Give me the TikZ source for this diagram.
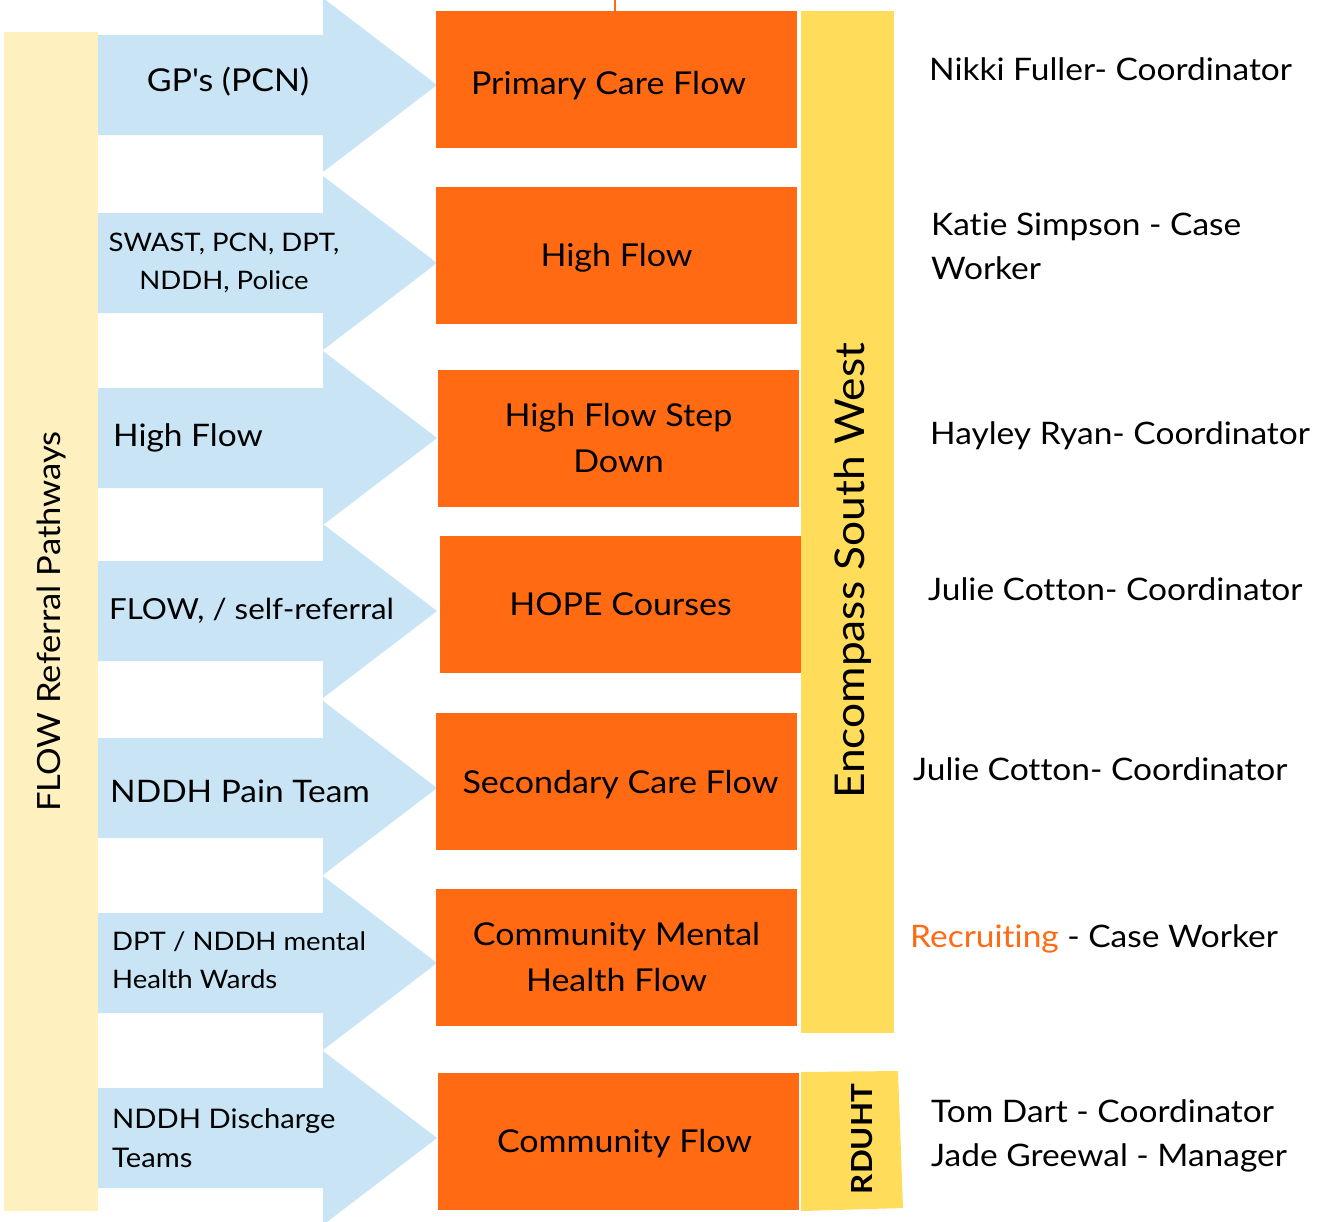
\documentclass[tikz,border=0pt]{standalone}
\usepackage{fontspec}
\setmainfont{Lato}[FakeStretch=1.08, Ligatures=NoCommon]
\usetikzlibrary{positioning}
\definecolor{flowOrange}{HTML}{FF6A13}
\definecolor{bandYellow}{HTML}{FFDC5A}
\definecolor{paleYellow}{HTML}{FEF0BF}
\definecolor{arrowBlue}{HTML}{C8E4F5}
\newcommand\lowered[2]{\raisebox{-#1}[\height][\depth]{#2}}
\tikzset{
flowbox/.style={
  rectangle,
  fill=flowOrange,
  inner sep=0pt,
  minimum width=361pt,
  minimum height=137pt,
  align=center,
  font=\fontsize{31.5}{46}\selectfont,
  }
}
\tikzset{
srctext/.style={
  inner sep=0pt,
  align=left,
  anchor=west,
  font=\fontsize{31}{40}\selectfont,
  },
srcsmall/.style={
  srctext,
  font=\fontsize{27}{39}\selectfont,
  },
staff/.style={
  inner sep=0pt,
  align=left,
  anchor=west,
  font=\fontsize{31}{44}\selectfont,
  }
}

\begin{document}
\begin{tikzpicture}[x=1pt,y=-1pt]
    \useasboundingbox (0,0) rectangle (1325,1221);

    % referral pathway bar
    \node[fill=paleYellow, rotate=90, minimum width=1179pt, minimum height=94pt, inner sep=0pt,
      font=\fontsize{32}{40}\selectfont] (pathbar) at (51,621.5) {FLOW Referral Pathways};

    % arrows
    \foreach \ty [count=\i] in {85,263,438,611,788,963,1138} {
      \fill[arrowBlue] (98,\ty-50) -- (323,\ty-50) -- (323,\ty-87) -- (437,\ty)
        -- (323,\ty+87) -- (323,\ty+50) -- (98,\ty+50) -- cycle;
      \coordinate (tip\i) at (437,\ty);
    }

    % source labels
    \node[srctext, anchor=center, font=\fontsize{31.5}{40}\selectfont] (gps) at (228,82) {GP\textquotesingle s (PCN)};
    \node[srcsmall, anchor=center, align=center, font=\fontsize{25.5}{38}\selectfont] (swast) at (224,263) {SWAST, PCN, DPT,\\NDDH, Police};
    \node[srctext] (highsrc) at (113,438) {High Flow};
    \node[srctext, font=\fontsize{29}{40}\selectfont] (selfref) at (109,611) {FLOW, / self-referral};
    \node[srctext] (pain) at (110,791) {NDDH Pain Team};
    \node[srcsmall, font=\fontsize{25.5}{38}\selectfont] (mental) at (112,960) {DPT / NDDH mental\\Health Wards};
    \node[srcsmall] (discharge) at (112,1138) {NDDH Discharge\\Teams};

    % flow boxes
    \node[flowbox] (primary) at (616.5,79.5) {\hspace*{-16pt}\lowered{6pt}{Primary Care Flow}};
    \node[flowbox] (high) at (616.5,255) {\lowered{3pt}{High Flow}};
    \node[flowbox] (stepdown) at (618.5,438.5) {High Flow Step\\Down};
    \node[flowbox] (hope) at (620.5,604.5) {HOPE Courses};
    \node[flowbox] (secondary) at (616.5,781.5) {\hspace*{8pt}\lowered{3pt}{Secondary Care Flow}};
    \node[flowbox] (cmh) at (616.5,957.5) {Community Mental\\Health Flow};
    \node[flowbox] (community) at (618.5,1141.5) {\hspace*{12pt}\lowered{2pt}{Community Flow}};
    \draw[flowOrange, line width=1.5pt] (primary.north) ++(-1.5,0) coordinate (stub) -- ++(0,-11);

    % provider bars
    \node[fill=bandYellow, minimum width=93pt, minimum height=1022pt, inner sep=0pt] (encbar) at (847.5,522) {};
    \node[rotate=90, inner sep=0pt, font=\fontsize{41}{48}\selectfont] (enctext) at (853,571) {Encompass South West};
    \fill[bandYellow] (801,1072) -- (898,1071) -- (903,1208) -- (801,1211) -- cycle;
    \node[rotate=90, inner sep=0pt, font=\bfseries\fontsize{29}{36}\selectfont] (rduht) at (862,1139) {RDUHT};

    % staff
    \node[staff] (nikki) at (929,69) {Nikki Fuller- Coordinator};
    \node[staff] (katie) at (931,246) {Katie Simpson - Case\\Worker};
    \node[staff] (hayley) at (930,436) {Hayley Ryan- Coordinator};
    \node[staff] (julie) at (928,589) {Julie Cotton- Coordinator};
    \node[staff] (julieb) at (913,769) {Julie Cotton- Coordinator};
    \node[staff] (recruit) at (910,939) {\textcolor{flowOrange}{Recruiting} - Case Worker};
    \node[staff] (tom) at (931,1136) {Tom Dart - Coordinator\\Jade Greewal - Manager};
  \end{tikzpicture}
\end{document}
